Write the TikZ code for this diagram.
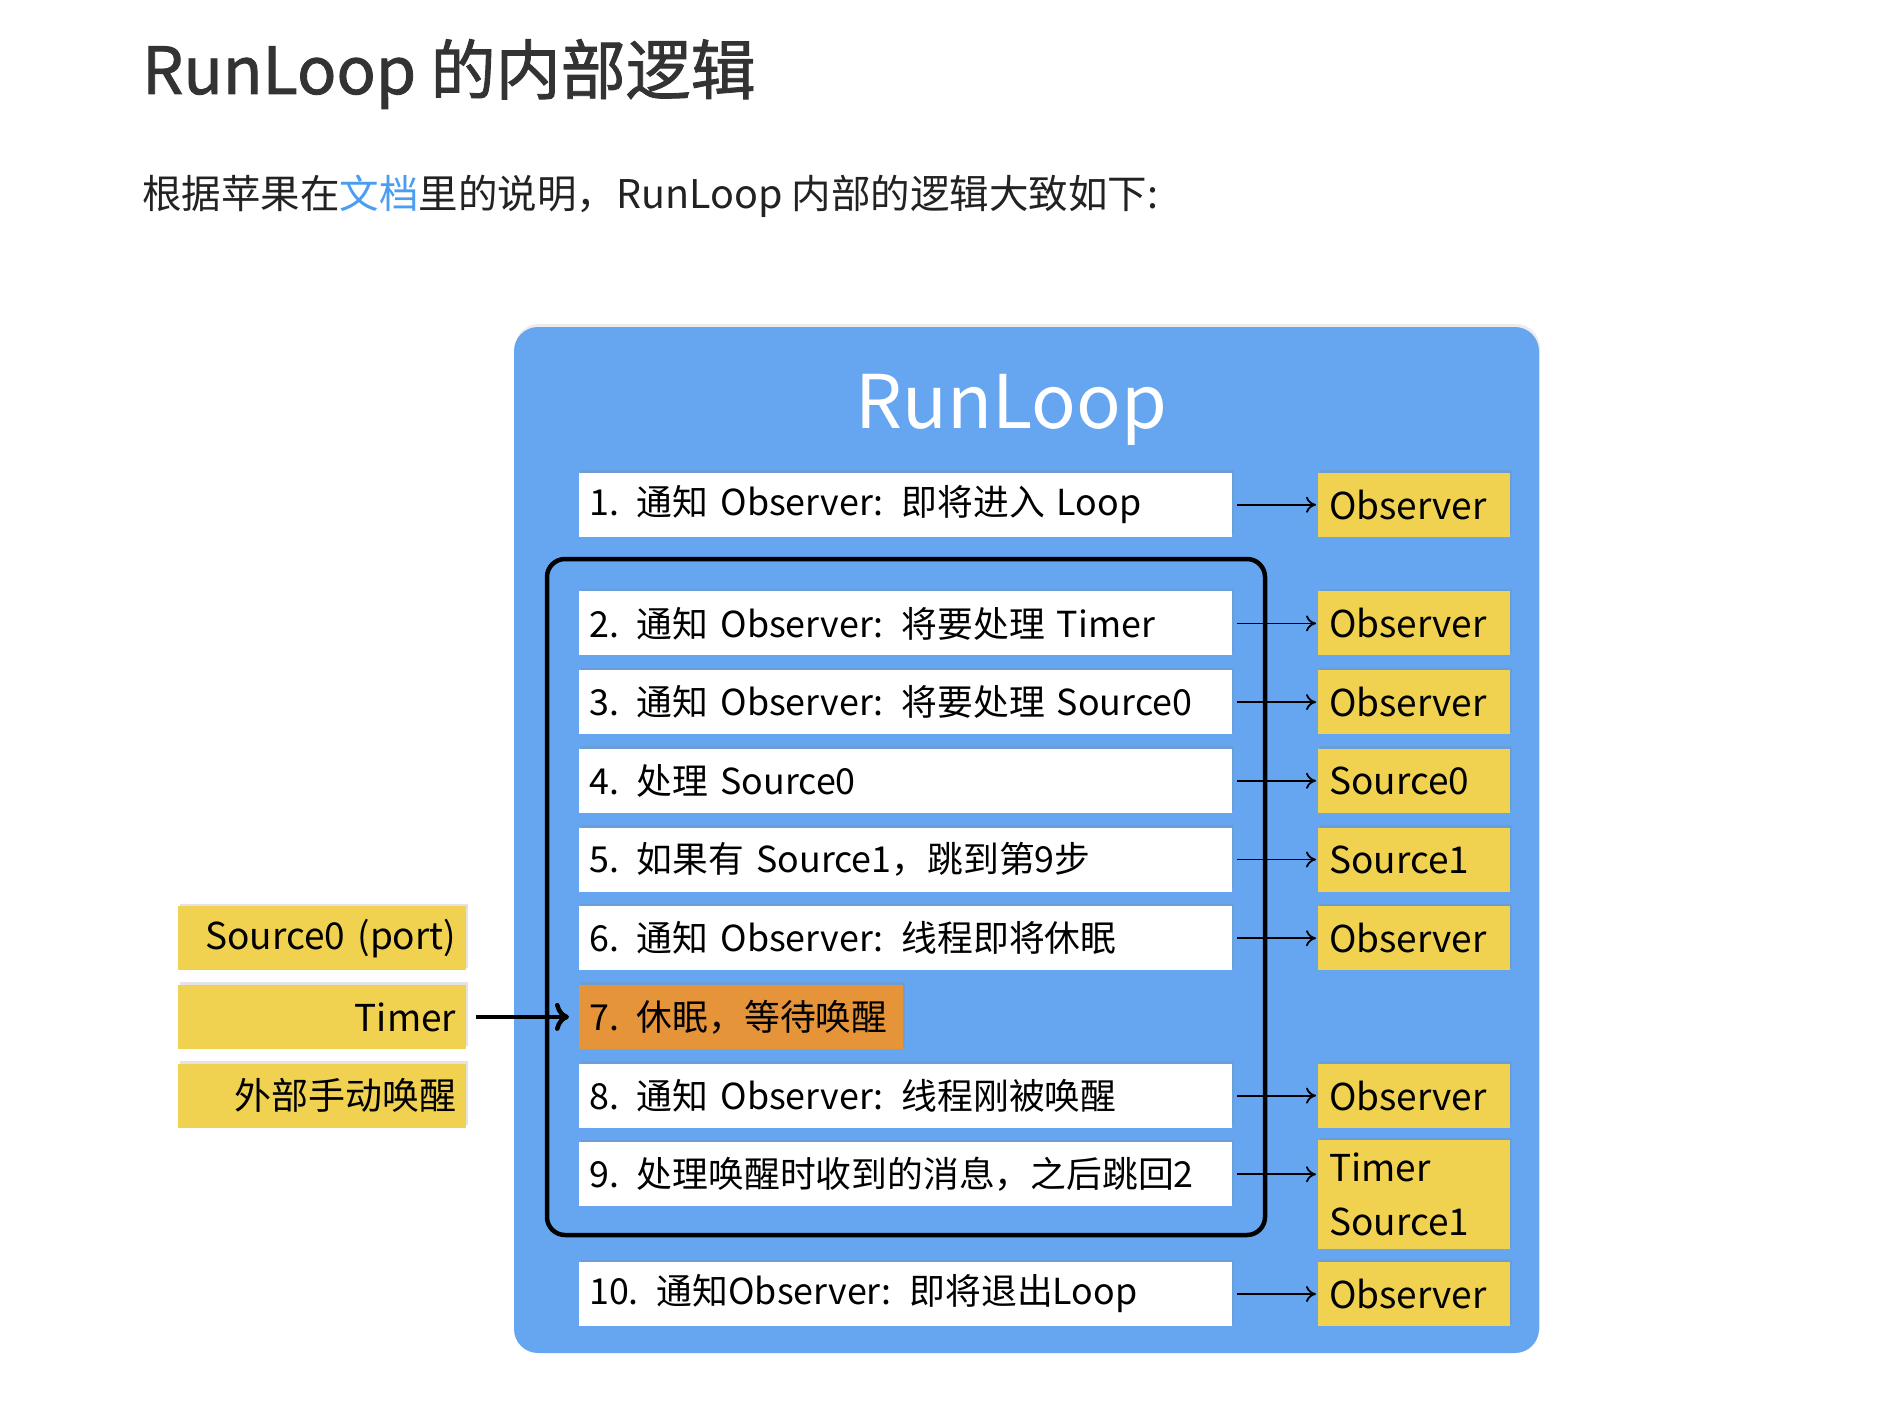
\documentclass[tikz,border=0pt]{standalone}
\usepackage{fontspec}
\setmainfont{Noto Sans CJK SC}
\newfontfamily\rltitlefont[FakeBold=1.3]{Noto Sans CJK SC}
\usetikzlibrary{arrows.meta,shadows}
\definecolor{rlblue}{RGB}{102,166,240}
\definecolor{rlyellow}{RGB}{240,210,80}
\definecolor{rlorange}{RGB}{230,148,58}
\definecolor{rltitle}{RGB}{51,51,51}
\definecolor{rltext}{RGB}{34,34,34}
\definecolor{rllink}{RGB}{74,157,240}
\newcommand\rlboxfont{\fontsize{37}{42}\selectfont}
\newcommand\rlstepfont{\fontsize{35.8}{42}\selectfont}
\newcommand\rlboxfonttall{\fontsize{37}{54}\selectfont}
\tikzset{
  softshadow/.style={drop shadow={shadow xshift=1.5, shadow yshift=-2.5, opacity=.22}},
  stepbox/.style={fill=white, anchor=west, minimum height=64, text width=633, inner xsep=10, inner ysep=0, align=left, font=\rlstepfont, text=black, softshadow},
  sleepbox/.style={stepbox, fill=rlorange, text width=304},
  outbox/.style={fill=rlyellow, anchor=west, minimum height=64, text width=170, inner xsep=11, inner ysep=0, align=left, font=\rlboxfont, text=black, softshadow},
  srcbox/.style={fill=rlyellow, anchor=west, minimum height=64, text width=268, inner xsep=10, inner ysep=0, align=right, font=\rlboxfont, text=black, softshadow},
  arr/.style={-{To[length=10,width=16]}, line width=1.8, shorten <=5, shorten >=2},
  bigarr/.style={-{To[length=14,width=28]}, line width=4.5, shorten <=10, shorten >=10},
}
\begin{document}
\begin{tikzpicture}[x=1pt,y=-1pt]
\useasboundingbox (0,0) rectangle (1898,1426);
\fill[white] (0,0) rectangle (1898,1426);
% headings
\node[anchor=base west, inner sep=0, text=rltitle, font=\rltitlefont\fontsize{65}{70}\selectfont] (title) at (142,94) {RunLoop 的内部逻辑};
\node[anchor=base west, inner sep=0, text=rltext, font=\fontsize{39.5}{46}\selectfont] (sub) at (142,208) {根据苹果在\textcolor{rllink}{文档}里的说明，RunLoop 内部的逻辑大致如下:};
% big blue panel
\fill[rlblue, rounded corners=24, drop shadow={shadow xshift=1, shadow yshift=-3, opacity=.15}] (514,327) rectangle (1539,1353);
\node[text=white, font=\fontsize{74}{80}\selectfont, inner sep=0] (rl) at (1011,410) {RunLoop};
% loop frame
\draw[line width=4.5, rounded corners=18] (547,559) rectangle (1265,1235);
% steps
\node[stepbox] (w1) at (579,504.8) {1. 通知 Observer: 即将进入 Loop};
\node[stepbox] (w2) at (579,623.4) {2. 通知 Observer: 将要处理 Timer};
\node[stepbox] (w3) at (579,702.1) {3. 通知 Observer: 将要处理 Source0};
\node[stepbox] (w4) at (579,780.8) {4. 处理 Source0};
\node[stepbox] (w5) at (579,859.5) {5. 如果有 Source1，跳到第9步};
\node[stepbox] (w6) at (579,938.2) {6. 通知 Observer: 线程即将休眠};
\node[sleepbox] (w7) at (579,1016.9) {\mbox{7. 休眠，等待唤醒}};
\node[stepbox] (w8) at (579,1095.6) {8. 通知 Observer: 线程刚被唤醒};
\node[stepbox] (w9) at (579,1174.3) {9. 处理唤醒时收到的消息，之后跳回2};
\node[stepbox] (w10) at (579,1294) {10. 通知Observer: 即将退出Loop};
% outputs
\node[outbox] (y1) at (1318,504.8) {Observer};
\node[outbox] (y2) at (1318,623.4) {Observer};
\node[outbox] (y3) at (1318,702.1) {Observer};
\node[outbox] (y4) at (1318,780.8) {Source0};
\node[outbox] (y5) at (1318,859.5) {Source1};
\node[outbox] (y6) at (1318,938.2) {Observer};
\node[outbox] (y8) at (1318,1095.6) {Observer};
\node[outbox, minimum height=109, font=\rlboxfonttall] (y9) at (1318,1194.5) {Timer\\Source1};
\node[outbox] (y10) at (1318,1294) {Observer};
% arrows
\foreach \i in {1,2,3,4,5,6,8,9,10}{
  \draw[arr] (w\i.east) -- (w\i.east -| y\i.west);
}
% wake-up sources
\node[srcbox] (s0) at (178,938.2) {Source0 (port)};
\node[srcbox] (st) at (178,1016.9) {Timer};
\node[srcbox] (sm) at (178,1095.6) {外部手动唤醒};
\draw[bigarr] (st.east) -- (w7.west);
\end{tikzpicture}
\end{document}
